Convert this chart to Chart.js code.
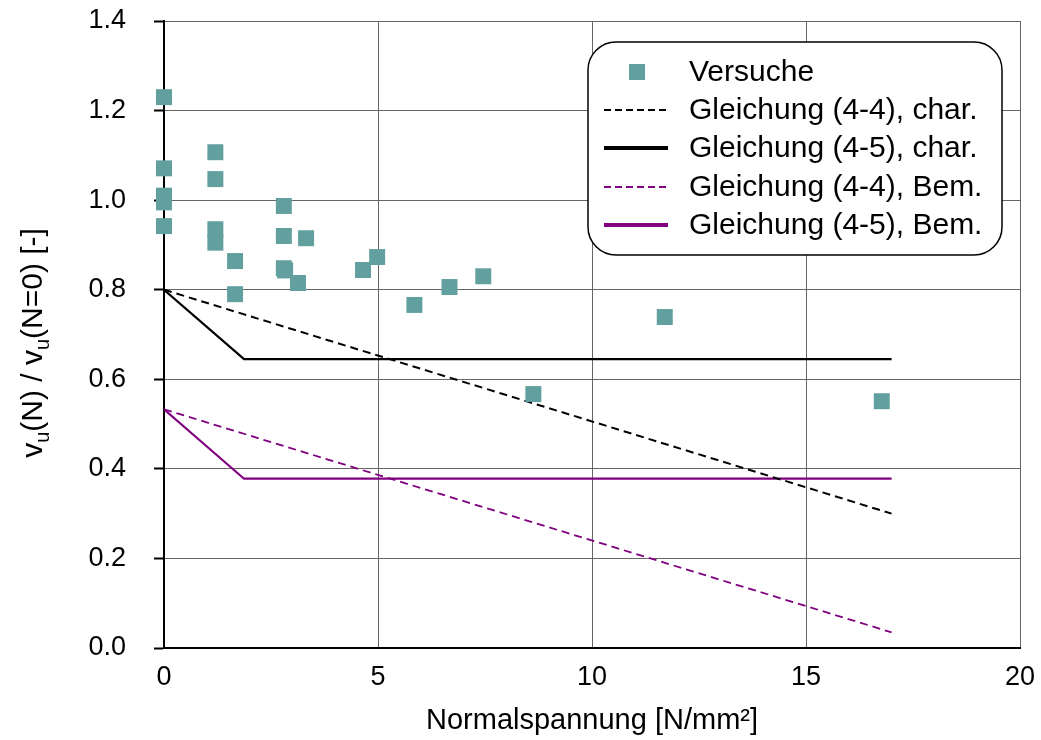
<!DOCTYPE html>
<html><head><meta charset="utf-8">
<script src="https://cdn.jsdelivr.net/npm/chart.js@4/dist/chart.umd.min.js"></script>
<style>html,body{margin:0;padding:0;background:#fff}#wrap{width:1041px;height:740px}</style>
</head><body><div id="wrap"><canvas id="c" width="1041" height="740"></canvas></div>
<script>
const versucheX = [0,0,0,0,0,1.2,1.2,1.2,1.2,1.66,1.66,2.8,2.8,2.8,2.83,3.13,3.32,4.65,4.98,5.85,6.67,7.46,8.63,11.7,16.77];
const versucheY = [1.230,1.071,1.010,0.995,0.942,1.107,1.047,0.935,0.905,0.864,0.790,0.987,0.920,0.848,0.843,0.815,0.915,0.844,0.873,0.766,0.806,0.830,0.567,0.739,0.551];
const charEq44X = [0,17], charEq44Y = [0.80,0.30];
const charEq45X = [0,1.87,17], charEq45Y = [0.80,0.645,0.645];
const bemEq44X = [0,17], bemEq44Y = [0.533,0.035];
const bemEq45X = [0,1.87,17], bemEq45Y = [0.533,0.378,0.378];
const labels = ['Versuche','Gleichung (4-4), char.','Gleichung (4-5), char.','Gleichung (4-4), Bem.','Gleichung (4-5), Bem.'];
const xTitle = 'Normalspannung [N/mm²]';

const pts = (xs, ys) => xs.map((x,i)=>({x:x,y:ys[i]}));
const TEAL = '#62A09F', PURPLE = '#800080';
const FONT = "'Liberation Sans', Arial, sans-serif";

const legendPlugin = {
  id:'customLegend',
  afterDraw(chart){
    const ctx = chart.ctx;
    ctx.save();
    const bx=588, by=42, bw=414, bh=213, r=28;
    ctx.beginPath();
    ctx.roundRect(bx,by,bw,bh,r);
    ctx.fillStyle='#fff'; ctx.fill();
    ctx.lineWidth=1.5; ctx.strokeStyle='#000'; ctx.stroke();
    const rows=[72,110,148,187,225];
    const styles=[
      {type:'pt'},
      {color:'#000',w:2,dash:[7,4]},
      {color:'#000',w:4,dash:[]},
      {color:PURPLE,w:2,dash:[7,4]},
      {color:PURPLE,w:4,dash:[]}
    ];
    ctx.font = '30px '+FONT;
    ctx.textBaseline='middle';
    chart.data.datasets.forEach((ds,i)=>{
      const y=rows[i], s=styles[i];
      if(s.type==='pt'){
        ctx.fillStyle=TEAL; ctx.fillRect(629,y-8,16,16);
      } else {
        ctx.beginPath(); ctx.setLineDash(s.dash); ctx.lineWidth=s.w; ctx.strokeStyle=s.color;
        ctx.moveTo(604,y); ctx.lineTo(668,y); ctx.stroke(); ctx.setLineDash([]);
      }
      ctx.fillStyle='#000'; ctx.textAlign='left';
      ctx.fillText(ds.label,689,y+1);
    });
    // y-axis title with subscripts
    ctx.translate(34, 343); ctx.rotate(-Math.PI/2);
    const parts=[['v',0],['u',1],['(N) / v',0],['u',1],['(N=0) [-]',0]];
    const mainF='30px '+FONT, subF='20px '+FONT;
    let total=0;
    parts.forEach(p=>{ctx.font=p[1]?subF:mainF; total+=ctx.measureText(p[0]).width;});
    let x=-total/2;
    ctx.textAlign='left'; ctx.fillStyle='#000';
    parts.forEach(p=>{ctx.font=p[1]?subF:mainF; ctx.fillText(p[0],x,p[1]?9:0); x+=ctx.measureText(p[0]).width;});
    ctx.restore();
  }
};

new Chart(document.getElementById('c'),{
  type:'scatter',
  data:{datasets:[
    {label:labels[0],data:pts(versucheX,versucheY),pointStyle:'rect',pointRadius:11.3,pointHoverRadius:11.3,backgroundColor:TEAL,borderColor:TEAL,borderWidth:0,showLine:false,order:0,clip:false},
    {label:labels[1],data:pts(charEq44X,charEq44Y),showLine:true,borderColor:'#000',borderWidth:2,borderDash:[8,5],pointRadius:0,fill:false,order:1},
    {label:labels[2],data:pts(charEq45X,charEq45Y),showLine:true,borderColor:'#000',borderWidth:2.2,pointRadius:0,fill:false,order:1},
    {label:labels[3],data:pts(bemEq44X,bemEq44Y),showLine:true,borderColor:PURPLE,borderWidth:1.8,borderDash:[8,5],pointRadius:0,fill:false,order:1},
    {label:labels[4],data:pts(bemEq45X,bemEq45Y),showLine:true,borderColor:PURPLE,borderWidth:2.2,pointRadius:0,fill:false,order:1}
  ]},
  options:{
    responsive:false, animation:false, devicePixelRatio:1,
    layout:{padding:{left:0,top:21,right:21,bottom:0}},
    plugins:{legend:{display:false},tooltip:{enabled:false}},
    scales:{
      x:{type:'linear',min:0,max:20,
        ticks:{stepSize:5,color:'#000',font:{family:FONT,size:27},padding:13,maxRotation:0},
        grid:{color:'#666',lineWidth:1,drawTicks:false},
        border:{color:'#000',width:2},
        title:{display:true,text:xTitle,color:'#000',font:{family:FONT,size:29},padding:{top:0,bottom:2}},
        afterFit(s){s.height=92; s.paddingLeft=0; s.paddingRight=0;}
      },
      y:{type:'linear',min:0,max:1.4,
        ticks:{stepSize:0.2,color:'#000',font:{family:FONT,size:27},padding:28,callback:v=>v.toFixed(1)},
        grid:{color:'#666',lineWidth:1,tickColor:'#000',tickLength:10,tickWidth:2},
        border:{color:'#000',width:2},
        afterFit(s){s.width=164; s.paddingTop=0; s.paddingBottom=0;}
      }
    }
  },
  plugins:[legendPlugin]
});
</script></body></html>
